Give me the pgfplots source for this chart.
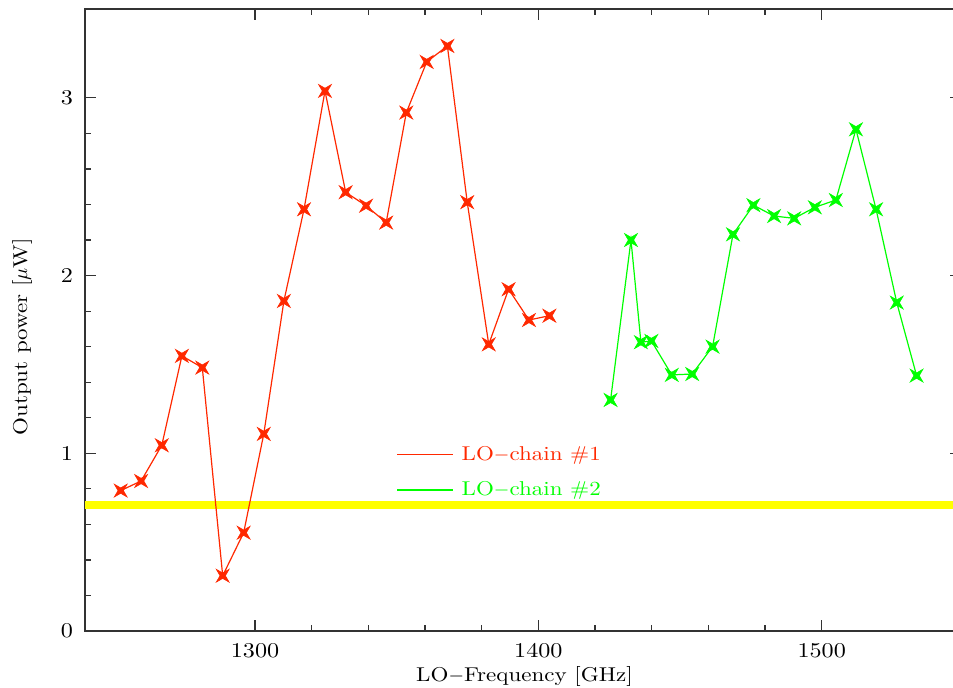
\documentclass[border=0pt]{standalone}
\usepackage{fontspec}
\setmainfont{Latin Modern Roman}[FakeStretch=1.15]
\usepackage{pgfplots}
\pgfplotsset{compat=1.18}
\definecolor{lored}{RGB}{255,40,0}
\definecolor{logreen}{RGB}{0,255,0}
\definecolor{loyellow}{RGB}{255,255,0}
\pgfdeclareplotmark{star4}{%
  \pgfpathmoveto{\pgfqpoint{\pgfplotmarksize}{\pgfplotmarksize}}%
  \pgfpathlineto{\pgfqpoint{0pt}{0.42\pgfplotmarksize}}%
  \pgfpathlineto{\pgfqpoint{-\pgfplotmarksize}{\pgfplotmarksize}}%
  \pgfpathlineto{\pgfqpoint{-0.42\pgfplotmarksize}{0pt}}%
  \pgfpathlineto{\pgfqpoint{-\pgfplotmarksize}{-\pgfplotmarksize}}%
  \pgfpathlineto{\pgfqpoint{0pt}{-0.42\pgfplotmarksize}}%
  \pgfpathlineto{\pgfqpoint{\pgfplotmarksize}{-\pgfplotmarksize}}%
  \pgfpathlineto{\pgfqpoint{0.42\pgfplotmarksize}{0pt}}%
  \pgfpathclose
  \pgfusepathqfillstroke
}
\pgfplotstableread{
x y
1252.6 0.790
1259.8 0.844
1267.1 1.045
1274.2 1.548
1281.4 1.482
1288.6 0.311
1296.0 0.553
1303.1 1.109
1310.2 1.857
1317.3 2.373
1324.7 3.039
1332.0 2.469
1339.2 2.393
1346.3 2.298
1353.4 2.917
1360.6 3.202
1367.9 3.292
1374.9 2.413
1382.5 1.613
1389.5 1.923
1396.7 1.750
1403.9 1.774
}\chainone
\pgfplotstableread{
x y
1425.5 1.300
1432.7 2.200
1436.2 1.625
1439.9 1.632
1447.1 1.441
1454.3 1.446
1461.5 1.600
1468.7 2.232
1475.9 2.396
1483.2 2.335
1490.3 2.322
1497.6 2.384
1505.0 2.425
1512.1 2.823
1519.2 2.373
1526.5 1.848
1533.5 1.437
}\chaintwo
\begin{document}
\begin{tikzpicture}
\begin{axis}[
  name=ax, scale only axis, width=437.75pt, height=311pt,
  xmin=1240, xmax=1549, ymin=0, ymax=3.5,
  xtick={1300,1400,1500}, minor x tick num=4,
  ytick={0,1,2,3}, minor y tick num=4,
  tick align=inside, major tick length=5.5pt, minor tick length=3pt,
  axis line style={black!80, line width=0.75pt},
  every tick/.style={black!80, line width=0.6pt},
  /pgf/number format/assume math mode=true,
  /pgf/number format/1000 sep={},
  tick label style={font=\fontsize{10.5}{12}\selectfont},
  xticklabel style={inner sep=0.5pt, yshift=-5.6pt},
  yticklabel style={xshift=-2.5pt},
  xlabel={LO$-$Frequency [GHz]},
  ylabel={Output power [$\mu$W]},
  label style={font=\fontsize{10.5}{12}\selectfont, inner sep=0.5pt},
  every axis x label/.style={at={(axis cs:1395.1,-0.287)}, anchor=base},
  every axis y label/.style={at={(axis cs:1217.8,1.655)}, rotate=90, anchor=center},
  legend style={draw=none, fill=none, at={(axis cs:1349.8,1.064)}, anchor=north west,
    font=\fontsize{10}{12}\selectfont, row sep=5pt, inner sep=0pt,
    /tikz/every odd column/.append style={column sep=2pt}},
  legend cell align=left,
  legend image code/.code={\draw[#1, mark=none] (0pt,0pt) -- (28pt,0pt);},
]
\addplot[loyellow, line width=4pt, forget plot] coordinates {(1240,0.71) (1549,0.71)};
\addplot[lored, line width=0.6pt, mark=star4, mark size=3.2pt, mark options={fill=lored, draw=lored, line width=0.3pt}] table {\chainone};
\addlegendentry[text=lored]{LO$-$chain \#1}
\addplot[logreen, line width=0.6pt, mark=star4, mark size=3.2pt, mark options={fill=logreen, draw=logreen, line width=0.3pt}] table {\chaintwo};
\addlegendentry[text=logreen]{LO$-$chain \#2}
\end{axis}
\pgfresetboundingbox
\path[use as bounding box] ([xshift=-42.5pt,yshift=-28.5pt]ax.south west) rectangle ([xshift=434pt,yshift=4.5pt]ax.north west);
\end{tikzpicture}
\end{document}
